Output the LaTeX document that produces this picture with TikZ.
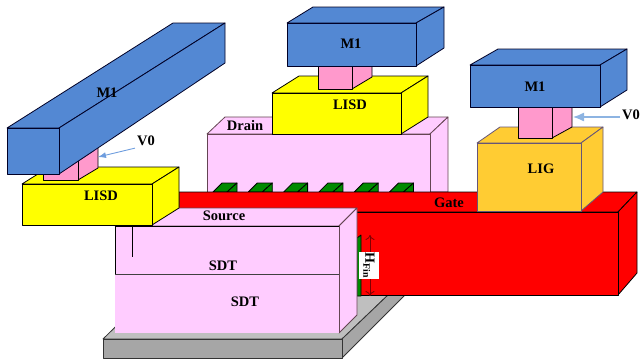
\documentclass[tikz,border=0pt]{standalone}
\usepackage{fontspec}
\setmainfont{Liberation Serif}
\usetikzlibrary{arrows.meta}

\definecolor{metalblue}{HTML}{5388D3}
\definecolor{viapink}{HTML}{FF99CC}
\definecolor{sdtpink}{HTML}{FFCCFF}
\definecolor{lisdyellow}{HTML}{FFFF00}
\definecolor{gatered}{HTML}{FF0000}
\definecolor{ligorange}{HTML}{FFCC33}
\definecolor{liggray}{HTML}{665577}
\definecolor{fingreen}{HTML}{008A00}
\definecolor{basegray}{HTML}{A6A6A6}
\definecolor{toplight}{HTML}{BFBFBF}
\definecolor{arrowblue}{HTML}{6E9DDE}
\definecolor{arrowpale}{HTML}{8DB4E2}

\begin{document}
\begin{tikzpicture}[x=1pt,y=-1pt]
        % Define styles
        \tikzset{
            face/.style={draw=black, line width=0.8pt, line join=round},
            metal/.style={face, draw=black!85!blue, fill=metalblue},
            via/.style={face, fill=viapink},
            lisd/.style={face, fill=lisdyellow},
            lig/.style={face, draw=liggray, fill=ligorange},
            sdt/.style={face, draw=black!70!magenta, fill=sdtpink},
            gate/.style={face, fill=gatered},
            fin/.style={face, fill=fingreen},
            base/.style={face, draw=black!80, fill=basegray},
            tag/.style={inner sep=2pt, font=\bfseries\fontsize{14.5}{16}\selectfont},
            pointer/.style={-{Latex[length=8pt,width=6pt]}, color=arrowblue, line width=0.9pt},
            palepointer/.style={-{Latex[length=11pt,width=9pt]}, color=arrowpale, line width=1.3pt},
            dimline/.style={{To[length=5pt,width=9pt]}-{To[length=5pt,width=9pt]}, color=black!50!red, line width=0.8pt}
        }

        \useasboundingbox (0,0) rectangle (641,360);

        % Base
        \draw[base, fill=toplight] (103,339) -- (148,295) -- (388,295) -- (342,339) -- cycle;
        \draw[base] (342,339) -- (388,295) -- (405,295) -- (342,358) -- cycle;
        \draw[base] (103,339) rectangle (342,358);

        % Drain
        \draw[sdt] (207,134) -- (225,117) -- (448,117) -- (430,134) -- cycle;
        \draw[sdt] (430,134) -- (448,117) -- (448,192) -- (430,192) -- cycle;
        \draw[sdt] (207,134) rectangle (430,192);
        \node[tag] (drain_label) at (245,126) {Drain};

        % Middle stack
        \draw[lisd] (272,93) -- (299,76) -- (428,76) -- (401,93) -- cycle;
        \draw[lisd] (401,93) -- (428,76) -- (428,117) -- (401,134) -- cycle;
        \draw[lisd] (272,93) rectangle (401,134);
        \draw[via] (352,89) -- (372,77) -- (372,60) -- (352,60) -- cycle;
        \draw[via] (318,60) rectangle (352,89);
        \draw[metal] (287,23) -- (313,7) -- (444,7) -- (416,23) -- cycle;
        \draw[metal] (416,23) -- (444,7) -- (444,48) -- (416,66) -- cycle;
        \draw[metal] (287,23) rectangle (416,66);
        \node[tag] (lisd_mid_label) at (350,105) {LISD};
        \node[tag] (m1_mid_label) at (351,44) {M1};

        % Fins
        \foreach \n in {0,...,5} {
            \draw[fin] ({213+35.3*\n},192) -- ({222+35.3*\n},183) -- ({237+35.3*\n},183) -- ({227+35.3*\n},192) -- cycle;
            \draw[fin] ({227+35.3*\n},192) -- ({237+35.3*\n},183) -- ({237+35.3*\n},192) -- cycle;
        }

        % Gate
        \draw[gate] (179,192) -- (637,192) -- (618,212) -- (179,212) -- cycle;
        \draw[gate] (618,212) -- (637,192) -- (637,273) -- (618,295) -- cycle;
        \draw[gate] (340,212) rectangle (618,295);
        \node[tag] (gate_label) at (449,203) {Gate};

        % Fin side and height mark
        \draw[fin] (357,238) -- (361,235) -- (361,296) -- (357,296) -- cycle;
        \coordinate (fin_top) at (370,235);
        \coordinate (fin_bottom) at (370,296);
        \draw[dimline] (fin_top) -- (fin_bottom);
        \node[rotate=-90, fill=white, inner sep=0pt, minimum width=27pt, minimum height=20pt, font=\bfseries\fontsize{14}{16}\selectfont] (hfin_label) at (369,265.5) {H\textsubscript{Fin}};

        % Right stack
        \draw[lig] (477,143) -- (500,127) -- (603,127) -- (581,143) -- cycle;
        \draw[lig] (581,143) -- (603,127) -- (603,192) -- (581,211) -- cycle;
        \draw[lig] (477,143) rectangle (581,211);
        \draw[via] (552,138) -- (572,127) -- (572,100) -- (552,100) -- cycle;
        \draw[via] (518,100) rectangle (552,138);
        \draw[metal] (470,65) -- (498,49) -- (627,49) -- (600,65) -- cycle;
        \draw[metal] (600,65) -- (627,49) -- (627,90) -- (600,107) -- cycle;
        \draw[metal] (470,65) rectangle (600,107);
        \node[tag] (lig_label) at (541,169) {LIG};
        \node[tag] (m1_right_label) at (535,87) {M1};
        \node[tag] (v0_right_label) at (631,115) {V0};
        \coordinate (v0_right_tip) at (573,117);
        \draw[palepointer] (v0_right_label.west |- v0_right_tip) -- (v0_right_tip);

        % Source and SDT
        \draw[sdt] (115,226) -- (133,208) -- (357,208) -- (339,226) -- cycle;
        \draw[sdt] (339,226) -- (357,208) -- (357,315) -- (339,333) -- cycle;
        \fill[sdtpink] (115,226) rectangle (339,333);
        \draw[face] (115,274) -- (115,226) -- (339,226);
        \draw[sdt] (339,226) -- (339,333);
        \draw[sdt, draw=black!75] (115,274) -- (339,274);
        \draw[face] (132,226) -- (132,257);
        \node[tag] (source_label) at (224,216) {Source};
        \node[tag] (sdt_top_label) at (223,266) {SDT};
        \node[tag] (sdt_bottom_label) at (245,302) {SDT};

        % Left stack
        \draw[lisd] (22,184) -- (49,167) -- (179,167) -- (152,184) -- cycle;
        \draw[lisd] (152,184) -- (179,167) -- (179,208) -- (152,225) -- cycle;
        \draw[lisd] (22,184) rectangle (152,225);
        \draw[via] (78,180) -- (98,168) -- (98,140) -- (78,140) -- cycle;
        \draw[via] (43,140) rectangle (78,180);
        \draw[metal] (7,128) -- (173,23) -- (225,23) -- (59,128) -- cycle;
        \draw[metal] (59,128) -- (225,23) -- (225,63) -- (59,174) -- cycle;
        \draw[metal] (7,128) rectangle (59,174);
        \node[tag] (lisd_left_label) at (101,196) {LISD};
        \node[tag] (m1_left_label) at (107,93) {M1};
        \node[tag] (v0_left_label) at (146,141) {V0};
        \coordinate (v0_left_tip) at (98,157);
        \draw[pointer] (v0_left_label.south west) -- (v0_left_tip);
    \end{tikzpicture}
\end{document}
